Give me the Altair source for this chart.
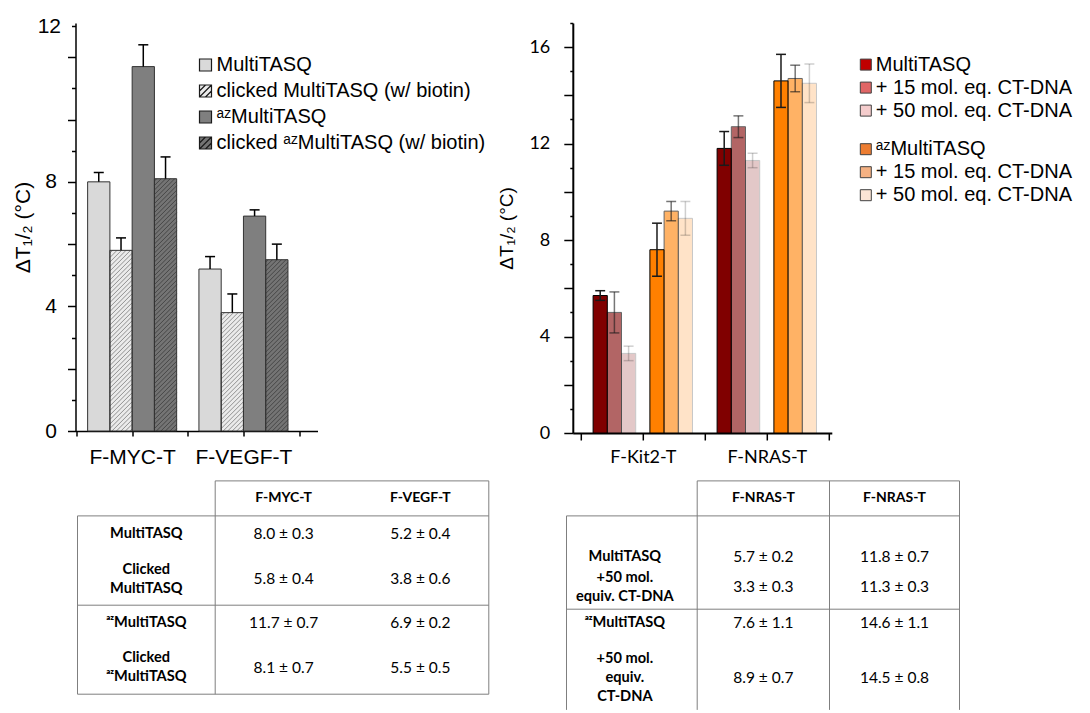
import altair as alt
import pandas as pd

ARIAL = "Liberation Sans"
CALIBRI = "Lato"

# ---------------- values ----------------
left_targets = ["F-MYC-T", "F-VEGF-T"]
left_series = [
    "MultiTASQ",
    "clicked MultiTASQ (w/ biotin)",
    "ᵃᶻMultiTASQ",
    "clicked ᵃᶻMultiTASQ (w/ biotin)",
]
left_hatched = [False, True, False, True]
myc_mean = [8.0, 5.8, 11.7, 8.1]
myc_err = [0.3, 0.4, 0.7, 0.7]
vegf_mean = [5.2, 3.8, 6.9, 5.5]
vegf_err = [0.4, 0.6, 0.2, 0.5]

right_targets = ["F-Kit2-T", "F-NRAS-T"]
right_families = ["MultiTASQ", "ᵃᶻMultiTASQ"]
right_levels = ["MultiTASQ", "+ 15 mol. eq. CT-DNA", "+ 50 mol. eq. CT-DNA"]
kit2_mean = [5.7, 5.0, 3.3, 7.6, 9.2, 8.9]
kit2_err = [0.2, 0.85, 0.3, 1.1, 0.4, 0.7]
nras_mean = [11.8, 12.7, 11.3, 14.6, 14.7, 14.5]
nras_err = [0.7, 0.45, 0.3, 1.1, 0.55, 0.8]

left_table_cols = ["F-MYC-T", "F-VEGF-T"]
left_table_rows = ["MultiTASQ", "Clicked\nMultiTASQ", "ᵃᶻMultiTASQ", "Clicked\nᵃᶻMultiTASQ"]
right_table_cols = ["F-NRAS-T", "F-NRAS-T"]
right_table_rows = ["MultiTASQ", "+50 mol.\nequiv. CT-DNA", "ᵃᶻMultiTASQ", "+50 mol.\nequiv.\nCT-DNA"]
right_table_pick = [0, 2, 3, 5]  # series shown in the right-hand table

y1_label_values = [0, 4, 8, 13]
y1_label_text = ["0", "4", "8", "12"]
y2_label_values = [0, 4, 8, 12, 16]
y2_label_text = ["0", "4", "8", "12", "16"]

# ---------------- styles ----------------
left_fill = ["#d9d9d9", "#ebebeb", "#7f7f7f", "#747474"]
left_hatch_color = [None, "#7a7a7a", None, "#3a3a3a"]
family_fill = ["#800000", "#ff8000"]
level_opacity = [1, 0.6, 0.21]
legend_red = ["#c00000", "#e06666", "#f4cccc"]
legend_orange = ["#ed7d31", "#f4b183", "#fbe5d6"]
HATCH_SYMBOL = "M-1,-1H1V1H-1Z M-1,0L0,-1 M-1,1L1,-1 M0,1L1,0"
left_symbols = [HATCH_SYMBOL if h else "square" for h in left_hatched]
LINE_H = 19  # table line height

# ---------------- geometry ----------------
W1, H1 = 242, 408
X1 = (0.491, 0.491 + 242 / 111.3)
Y1 = (0, 13.1)
SLOT1, CAP1 = 0.2, 0.045
HATCH_GAP = 4.5  # px between hatch lines

W2, H2 = 259, 410
X2 = (0.4355, 0.4355 + 259 / 124)
Y2 = (0, 17)
SLOT2, CAP2 = 0.1145, 0.04


def expr_from(values, texts):
    expr = "''"
    for v, t in zip(reversed(values), reversed(texts)):
        expr = f"datum.value == {v} ? '{t}' : ({expr})"
    return expr


def category_ticks(names):
    return [k / 2 for k in range(1, 2 * len(names) + 2)]


# ---------------- left panel ----------------
rows = []
for ti, (t, m, e) in enumerate(zip(left_targets, [myc_mean, vegf_mean], [myc_err, vegf_err])):
    for si, s in enumerate(left_series):
        xc = ti + 1 + (si - (len(left_series) - 1) / 2) * SLOT1
        rows.append(dict(target=t, series=s, si=si, mean=m[si], err=e[si], top=m[si] + e[si],
                         base=0.0, fillc=left_fill[si],
                         xc=xc, x0=xc - SLOT1 / 2, x1=xc + SLOT1 / 2, c0=xc - CAP1, c1=xc + CAP1))
df1 = pd.DataFrame(rows)

px_x = W1 / (X1[1] - X1[0])
px_y = H1 / (Y1[1] - Y1[0])
hatch = []
for r in df1.itertuples():
    if not left_hatched[r.si]:
        continue
    bw = (r.x1 - r.x0) * px_x
    bh = r.mean * px_y
    c = -bw + HATCH_GAP / 2
    while c < bh:
        u0, u1 = max(0.0, -c), min(bw, bh - c)
        if u1 > u0:
            hatch.append(dict(hx0=r.x0 + u0 / px_x, hy0=(u0 + c) / px_y,
                              hx1=r.x0 + u1 / px_x, hy1=(u1 + c) / px_y,
                              color=left_hatch_color[r.si]))
        c += HATCH_GAP
dfh = pd.DataFrame(hatch)

x1_scale = alt.Scale(domain=list(X1), nice=False, zero=False)
y1_scale = alt.Scale(domain=list(Y1), nice=False, zero=False)
x1_axis = alt.Axis(values=category_ticks(left_targets),
                   labelExpr=expr_from([1, 2], left_targets),
                   tickSize=5, tickColor="black", tickWidth=1.5, domainColor="black", domainWidth=1.5,
                   labelFont=ARIAL, labelFontSize=21, labelColor="black", labelPadding=10,
                   labelAngle=0, grid=False, title=None)
y1_axis = alt.Axis(values=list(range(0, 14)),
                   labelExpr=expr_from(y1_label_values, y1_label_text),
                   tickSize={"condition": {"test": "datum.value % 2 == 0", "value": 8}, "value": 4},
                   tickColor="black", tickWidth=1.5, domainColor="black", domainWidth=1.5,
                   labelFont=ARIAL, labelFontSize=21, labelColor="black", labelPadding=11,
                   grid=False, title="ΔT₁/₂ (°C)", titleFont=ARIAL, titleFontSize=21,
                   titleFontWeight="normal", titleColor="black", titlePadding=4)

legend1 = alt.Legend(
    orient="none", legendX=120, legendY=32, title=None, direction="vertical", padding=0,
    labelFont=ARIAL, labelFontSize=20, labelColor="black", labelOffset=1, labelLimit=400,
    symbolSize=144, rowPadding=6, symbolOpacity=1, symbolStrokeWidth=1.2,
)


def lx(field):
    return alt.X(field, type="quantitative", scale=x1_scale, axis=x1_axis, title=None)


def ly(field):
    return alt.Y(field, type="quantitative", scale=y1_scale, axis=y1_axis)


bars1 = alt.Chart(df1).mark_rect(strokeWidth=0).encode(
    x=lx("x0"), x2="x1", y=ly("mean"), y2="base",
    fill=alt.Fill("fillc:N", scale=None),
)
hatch1 = alt.Chart(dfh).mark_rule(strokeWidth=0.8).encode(
    x=lx("hx0"), y=ly("hy0"), x2="hx1", y2="hy1", stroke=alt.Stroke("color:N", scale=None),
)
outline1 = alt.Chart(df1).mark_rect(fillOpacity=0, stroke="#333333", strokeWidth=1).encode(
    x=lx("x0"), x2="x1", y=ly("mean"), y2="base",
)
err1 = alt.Chart(df1).mark_rule(color="black", strokeWidth=1.5).encode(x=lx("xc"), y=ly("mean"), y2="top")
cap1 = alt.Chart(df1).mark_rule(color="black", strokeWidth=1.5).encode(x=lx("c0"), x2="c1", y=ly("top"))
# legend carrier: no rows survive the filter, the scales' domains still feed the legend
key1 = alt.Chart(df1).transform_filter("false").mark_point(filled=True, strokeWidth=1.2).encode(
    x=lx("xc"), y=ly("mean"),
    fill=alt.Fill("series:N", scale=alt.Scale(domain=left_series, range=left_fill), legend=legend1),
    stroke=alt.Stroke("series:N", scale=alt.Scale(domain=left_series, range=["#1a1a1a"] * len(left_series)),
                      legend=legend1),
    shape=alt.Shape("series:N", scale=alt.Scale(domain=left_series, range=left_symbols), legend=legend1),
)

left_plot = alt.layer(bars1, hatch1, outline1, err1, cap1, key1).properties(width=W1, height=H1)

# ---------------- right panel ----------------
rows = []
for ti, (t, m, e) in enumerate(zip(right_targets, [kit2_mean, nras_mean], [kit2_err, nras_err])):
    for fi, fam in enumerate(right_families):
        for li, lev in enumerate(right_levels):
            si = fi * len(right_levels) + li
            slot = fi * (len(right_levels) + 1) + li
            xc = ti + 1 + (slot - len(right_levels)) * SLOT2
            label = fam if li == 0 else lev
            rows.append(dict(target=t, family=fam, op=level_opacity[li], label=label, si=si,
                             mean=m[si], err=e[si], lo=m[si] - e[si], hi=m[si] + e[si], base=0.0,
                             xc=xc, x0=xc - SLOT2 / 2, x1=xc + SLOT2 / 2, c0=xc - CAP2, c1=xc + CAP2))
df2 = pd.DataFrame(rows)

x2_scale = alt.Scale(domain=list(X2), nice=False, zero=False)
y2_scale = alt.Scale(domain=list(Y2), nice=False, zero=False)
x2_axis = alt.Axis(values=category_ticks(right_targets),
                   labelExpr=expr_from([1, 2], right_targets),
                   tickSize=7, tickColor="black", tickWidth=1.5, domainColor="black", domainWidth=2,
                   labelFont=CALIBRI, labelFontSize=18, labelColor="black", labelPadding=8,
                   labelAngle=0, grid=False, title=None)
y2_axis = alt.Axis(values=list(range(0, 18)),
                   labelExpr=expr_from(y2_label_values, y2_label_text),
                   tickSize={"condition": {"test": "datum.value % 2 == 0", "value": 9}, "value": 3},
                   tickColor="black", tickWidth=1.5, domainColor="black", domainWidth=2,
                   labelFont=CALIBRI, labelFontSize=18, labelColor="black", labelPadding=14,
                   grid=False, title="ΔT₁/₂ (°C)", titleFont=ARIAL, titleFontSize=19,
                   titleFontWeight="normal", titleColor="black", titlePadding=12)


def rx(field):
    return alt.X(field, type="quantitative", scale=x2_scale, axis=x2_axis, title=None)


def ry(field):
    return alt.Y(field, type="quantitative", scale=y2_scale, axis=y2_axis)


fade = alt.Opacity("op:Q", scale=None)

bars2 = alt.Chart(df2).mark_rect(stroke="black", strokeWidth=1).encode(
    x=rx("x0"), x2="x1", y=ry("mean"), y2="base",
    fill=alt.Fill("family:N", scale=alt.Scale(domain=right_families, range=family_fill), legend=None),
    opacity=fade,
)
err_style = dict(color="#1a1a1a", strokeWidth=1.5)
err2 = alt.Chart(df2).mark_rule(**err_style).encode(x=rx("xc"), y=ry("lo"), y2="hi", opacity=fade)
caplo2 = alt.Chart(df2).mark_rule(**err_style).encode(x=rx("c0"), x2="c1", y=ry("lo"), opacity=fade)
caphi2 = alt.Chart(df2).mark_rule(**err_style).encode(x=rx("c0"), x2="c1", y=ry("hi"), opacity=fade)


def family_legend(y):
    return alt.Legend(
        orient="none", legendX=283, legendY=y, title=None, direction="vertical", padding=0,
        labelFont=ARIAL, labelFontSize=20, labelColor="black", labelOffset=0, labelLimit=400,
        symbolType="square", symbolSize=121, rowPadding=3, symbolOpacity=1, symbolStrokeWidth=1,
    )


legend_layers = []
for fam, colors, leg_y in zip(right_families, [legend_red, legend_orange], [31.6, 116.2]):
    labels = [fam] + right_levels[1:]
    leg = family_legend(leg_y)
    legend_layers.append(
        alt.Chart(df2).transform_filter(alt.datum.family == fam).transform_filter("false")
        .mark_point(shape="square", filled=True, strokeWidth=1).encode(
            x=rx("xc"), y=ry("mean"),
            fill=alt.Fill("label:N", scale=alt.Scale(domain=labels, range=colors), legend=leg),
            stroke=alt.Stroke("label:N", scale=alt.Scale(domain=labels, range=["#404040"] * len(labels)),
                              legend=leg),
        )
    )

right_plot = alt.layer(bars2, err2, caplo2, caphi2, *legend_layers).resolve_scale(
    fill="independent", stroke="independent").properties(width=W2, height=H2)


# ---------------- tables ----------------
def fmt(m, e):
    return f"{m:.1f} ± {e:.1f}"


def first_line_y(center, text):
    # multi-line cells are centred on the row: shift the first line up
    n = text.count("\n") + 1
    return center - (n - 1) / 2 * LINE_H


def make_table(width, height, col_edges, header_y, row_y, cols, row_labels, values, segments,
               label_shift=0):
    xs = alt.Scale(domain=[0, width], nice=False, zero=False)
    ys = alt.Scale(domain=[0, height], nice=False, zero=False, reverse=True)
    centers = [(a + b) / 2 for a, b in zip(col_edges[:-1], col_edges[1:])]
    head = [dict(x=centers[i + 1], y=header_y, text=c) for i, c in enumerate(cols)]
    bold = [dict(x=centers[0] + label_shift, y=first_line_y(row_y[r], lab), text=lab)
            for r, lab in enumerate(row_labels)]
    plain = [dict(x=centers[c + 1], y=row_y[r], text=values[c][r])
             for c in range(len(cols)) for r in range(len(row_labels))]
    lines = pd.DataFrame(segments)
    tx = alt.X("x:Q", scale=xs, axis=None)
    ty = alt.Y("y:Q", scale=ys, axis=None)
    rules = alt.Chart(lines).mark_rule(color="#7f7f7f", strokeWidth=1).encode(
        x=tx, x2="x2", y=ty, y2="y2")
    t_head = alt.Chart(pd.DataFrame(head)).mark_text(
        font=CALIBRI, fontSize=14, fontWeight="bold", color="black",
        align="center", baseline="middle").encode(x=tx, y=ty, text="text:N")
    t_bold = alt.Chart(pd.DataFrame(bold)).mark_text(
        font=CALIBRI, fontSize=14.6, fontWeight="bold", color="black", lineBreak="\n", lineHeight=LINE_H,
        align="center", baseline="middle").encode(x=tx, y=ty, text="text:N")
    t_plain = alt.Chart(pd.DataFrame(plain)).mark_text(
        font=CALIBRI, fontSize=15.5, color="black", align="center", baseline="middle").encode(
        x=tx, y=ty, text="text:N")
    return alt.layer(rules, t_head, t_bold, t_plain).properties(width=width, height=height)


# left table
t1_cols = [2, 139.7, 276.5, 413.3]
t1_rows = [0, 35, 72, 124.3, 160.3, 213.3]
t1_row_y = [(a + b) / 2 for a, b in zip(t1_rows[1:-1], t1_rows[2:])]
t1_values = [[fmt(m, e) for m, e in zip(myc_mean, myc_err)],
             [fmt(m, e) for m, e in zip(vegf_mean, vegf_err)]]
t1_segments = [
    dict(x=t1_cols[1], x2=t1_cols[3], y=t1_rows[0], y2=t1_rows[0]),
    dict(x=t1_cols[0], x2=t1_cols[3], y=t1_rows[1], y2=t1_rows[1]),
    dict(x=t1_cols[0], x2=t1_cols[3], y=t1_rows[3], y2=t1_rows[3]),
    dict(x=t1_cols[0], x2=t1_cols[3], y=t1_rows[5], y2=t1_rows[5]),
    dict(x=t1_cols[0], x2=t1_cols[0], y=t1_rows[1], y2=t1_rows[5]),
    dict(x=t1_cols[1], x2=t1_cols[1], y=t1_rows[0], y2=t1_rows[5]),
    dict(x=t1_cols[3], x2=t1_cols[3], y=t1_rows[0], y2=t1_rows[5]),
]
left_table = make_table(414, 214, t1_cols, (t1_rows[0] + t1_rows[1]) / 2, t1_row_y,
                        left_table_cols, left_table_rows, t1_values, t1_segments)

# right table
t2_cols = [-6.3, 124.4, 256.7, 386.7]
t2_rows = [0, 35, 128.3, 229]
t2_row_y = [75.6, 106.3, 142.3, 197.2]
t2_values = [[fmt(kit2_mean[i], kit2_err[i]) for i in right_table_pick],
             [fmt(nras_mean[i], nras_err[i]) for i in right_table_pick]]
t2_segments = [
    dict(x=t2_cols[1], x2=t2_cols[3], y=t2_rows[0], y2=t2_rows[0]),
    dict(x=t2_cols[0], x2=t2_cols[3], y=t2_rows[1], y2=t2_rows[1]),
    dict(x=t2_cols[0], x2=t2_cols[3], y=t2_rows[2], y2=t2_rows[2]),
    dict(x=t2_cols[0], x2=t2_cols[0], y=t2_rows[1], y2=t2_rows[3]),
    dict(x=t2_cols[1], x2=t2_cols[1], y=t2_rows[0], y2=t2_rows[3]),
    dict(x=t2_cols[2], x2=t2_cols[2], y=t2_rows[0], y2=t2_rows[3]),
    dict(x=t2_cols[3], x2=t2_cols[3], y=t2_rows[0], y2=t2_rows[3]),
]
right_table = make_table(387, 229, t2_cols, (t2_rows[0] + t2_rows[1]) / 2, t2_row_y,
                         right_table_cols, right_table_rows, t2_values, t2_segments,
                         label_shift=-7)

# ---------------- page ----------------
chart = alt.concat(
    left_plot, right_plot, left_table, right_table,
    columns=2, spacing={"row": 47.9, "column": 83.3}, bounds="flush",
).properties(
    padding={"left": 11.5, "top": 14, "right": 0, "bottom": 0},
).configure(font=ARIAL).configure_view(stroke="transparent")

chart.save("out.html", embed_options={"renderer": "svg", "actions": False})
